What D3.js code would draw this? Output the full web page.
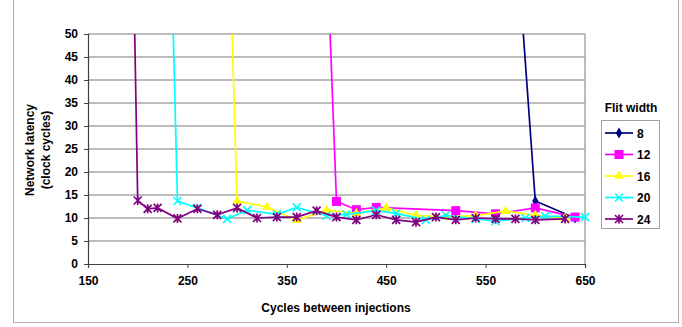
<!DOCTYPE html>
<html>
<head>
<meta charset="utf-8">
<script src="https://cdn.jsdelivr.net/npm/d3@7"></script>
<style>
  body { margin: 0; background: #fff; }
  text { font-family: "Liberation Sans", Arial, sans-serif; font-weight: bold; fill: #000; }
</style>
</head>
<body>
<div id="graph"></div>
<script>
// data
const flitWidths = ["8", "12", "16", "20", "24"];
const colors = ["#000080", "#ff00ff", "#ffff00", "#00ffff", "#800080"];

const cycles8 = [580, 600, 640];
const latency8 = [74, 13.7, 10];

const cycles12 = [390, 400, 420, 440, 520, 560, 600, 640];
const latency12 = [70, 13.6, 11.8, 12.3, 11.6, 10.9, 12.2, 10.2];

const cycles16 = [290, 300, 330, 360, 390, 420, 450, 480, 510, 540, 570, 600, 630];
const latency16 = [86, 13.7, 12.4, 9.5, 11.7, 11, 12.2, 10.6, 10.2, 10.5, 11.5, 10.6, 10];

const cycles20 = [230, 240, 260, 290, 310, 340, 360, 390, 410, 440, 460, 490, 510, 540, 560, 590, 610, 650];
const latency20 = [100, 13.7, 12.2, 9.8, 11.7, 10.8, 12.3, 10.5, 10.8, 11.6, 11, 9.6, 10.6, 9.8, 9.3, 10, 10.4, 10.2];

const cycles24 = [190, 200, 210, 220, 240, 260, 280, 300, 320, 340, 360, 380, 400, 420, 440, 460, 480, 500, 520, 540, 560, 580, 600, 630];
const latency24 = [135, 13.8, 12, 12.2, 9.9, 12, 10.7, 12.2, 10, 10.2, 10.2, 11.6, 10.2, 9.6, 10.7, 9.6, 9.1, 10.2, 9.6, 10, 9.8, 9.8, 9.6, 9.8];

const xTicks = [150, 250, 350, 450, 550, 650];
const yTicks = [0, 5, 10, 15, 20, 25, 30, 35, 40, 45, 50];

const seriesX = [cycles8, cycles12, cycles16, cycles20, cycles24];
const seriesY = [latency8, latency12, latency16, latency20, latency24];

// --------------------------------------
//  Canvas
// --------------------------------------
const W = 682, H = 327;
const plot = { left: 88, right: 585, top: 34, bottom: 264 };

const svg = d3.select("#graph").append("svg")
  .attr("width", W).attr("height", H);

// chart border
svg.append("rect")
  .attr("x", 13.5).attr("y", -1).attr("width", 665).attr("height", 323.5)
  .attr("fill", "none").attr("stroke", "#b0b0b0");

const x = d3.scaleLinear().domain([150, 650]).range([plot.left, plot.right]);
const y = d3.scaleLinear().domain([0, 50]).range([plot.bottom, plot.top]);

// gridlines
svg.append("g").selectAll("line")
  .data(yTicks.filter(d => d > 0))
  .join("line")
  .attr("x1", plot.left).attr("x2", plot.right)
  .attr("y1", d => y(d)).attr("y2", d => y(d))
  .attr("stroke", "#a6a6a6").attr("stroke-width", 1.5);

// right border of plot area
svg.append("line")
  .attr("x1", plot.right).attr("x2", plot.right)
  .attr("y1", plot.top).attr("y2", plot.bottom)
  .attr("stroke", "#a6a6a6").attr("stroke-width", 1.5);

// axes
const yAxis = svg.append("g")
  .attr("transform", `translate(${plot.left},0)`)
  .call(d3.axisLeft(y).tickValues(yTicks).tickSize(4).tickPadding(6));
const xAxis = svg.append("g")
  .attr("transform", `translate(0,${plot.bottom})`)
  .call(d3.axisBottom(x).tickValues(xTicks).tickSize(4).tickPadding(8));

[yAxis, xAxis].forEach(a => {
  a.select(".domain").attr("stroke", "#404040").attr("stroke-width", 1.2);
  a.selectAll(".tick line").attr("stroke", "#404040");
  a.selectAll("text").attr("font-size", 12).attr("font-family", "Liberation Sans, Arial, sans-serif")
    .attr("font-weight", "bold").attr("fill", "#000");
});

// axis titles
svg.append("text")
  .attr("transform", "translate(34,150) rotate(-90)")
  .attr("text-anchor", "middle").attr("font-size", 12)
  .text("Network latency");
svg.append("text")
  .attr("transform", "translate(50,150) rotate(-90)")
  .attr("text-anchor", "middle").attr("font-size", 12)
  .text("(clock cycles)");
svg.append("text")
  .attr("x", 336).attr("y", 312)
  .attr("text-anchor", "middle").attr("font-size", 12)
  .text("Cycles between injections");

// --------------------------------------
//  Lines and markers
// --------------------------------------
svg.append("clipPath").attr("id", "clip")
  .append("rect")
  .attr("x", plot.left).attr("y", plot.top)
  .attr("width", plot.right - plot.left + 12).attr("height", plot.bottom - plot.top);

const line = d3.line().x(d => x(d[0])).y(d => y(d[1]));

function marker(g, i, c) {
  if (i === 0) {
    g.append("path").attr("d", d3.symbol(d3.symbolDiamond, 34)).attr("fill", c);
  } else if (i === 1) {
    g.append("rect").attr("x", -4.5).attr("y", -4.5).attr("width", 9).attr("height", 9).attr("fill", c);
  } else if (i === 2) {
    g.append("path").attr("d", d3.symbol(d3.symbolTriangle, 40)).attr("fill", c);
  } else if (i === 3) {
    g.append("path").attr("d", "M-4,-4L4,4M-4,4L4,-4")
      .attr("stroke", c).attr("stroke-width", 1.6).attr("fill", "none");
  } else {
    g.append("path").attr("d", "M-4,-4L4,4M-4,4L4,-4M0,-4.5L0,4.5")
      .attr("stroke", c).attr("stroke-width", 1.7).attr("fill", "none");
  }
}

const layer = svg.append("g").attr("clip-path", "url(#clip)");

// series drawn in legend order, the last one on top
flitWidths.forEach((name, i) => {
  const pts = seriesX[i].map((v, k) => [v, seriesY[i][k]]);
  layer.append("path")
    .datum(pts)
    .attr("d", line)
    .attr("fill", "none")
    .attr("stroke", colors[i])
    .attr("stroke-width", 1.7);
  pts.filter(p => p[1] <= 50).forEach(p => {
    const g = layer.append("g").attr("transform", `translate(${x(p[0])},${y(p[1])})`);
    marker(g, i, colors[i]);
  });
});

// --------------------------------------
//  Legend
// --------------------------------------
svg.append("text")
  .attr("x", 631).attr("y", 112)
  .attr("text-anchor", "middle").attr("font-size", 12)
  .text("Flit width");

svg.append("rect")
  .attr("x", 601.5).attr("y", 120.5).attr("width", 58).attr("height", 108)
  .attr("fill", "#fff").attr("stroke", "#a0a0a0");

flitWidths.forEach((name, i) => {
  const ly = 133 + i * 21.5;
  const g = svg.append("g");
  g.append("line")
    .attr("x1", 605).attr("x2", 633).attr("y1", ly).attr("y2", ly)
    .attr("stroke", colors[i]).attr("stroke-width", 1.7);
  marker(g.append("g").attr("transform", `translate(619,${ly})`), i, colors[i]);
  g.append("text")
    .attr("x", 637).attr("y", ly + 4.5)
    .attr("font-size", 12)
    .text(name);
});
</script>
</body>
</html>
